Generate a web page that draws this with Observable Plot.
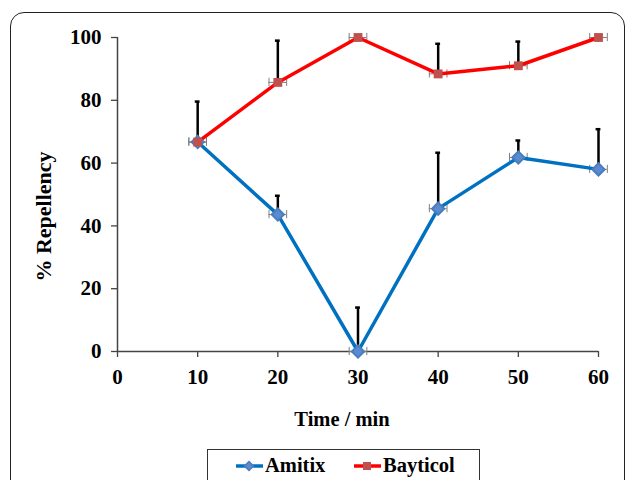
<!DOCTYPE html>
<html>
<head>
<meta charset="utf-8">
<script src="https://cdn.jsdelivr.net/npm/d3@7"></script>
<script src="https://cdn.jsdelivr.net/npm/@observablehq/plot@0.6"></script>
<style>
  html, body { margin: 0; padding: 0; background: #fff; }
  #wrap { position: relative; width: 627px; height: 480px; overflow: hidden; font-family: "Liberation Serif", "Times New Roman", serif; font-weight: bold; }
  #frame { position: absolute; left: 10px; top: 12px; width: 615px; height: 520px; border: 1.6px solid #222; border-radius: 14px; box-sizing: border-box; pointer-events: none; }
  #chart { position: absolute; left: 0; top: 0; }
  #legend { position: absolute; left: 207px; top: 449px; width: 273px; height: 45px; border: 1.2px solid #333; box-sizing: border-box; background: #fff; }
  .item { position: absolute; top: 4px; display: flex; align-items: center; font-size: 20.5px; color: #000; }
  .item svg { margin-right: 2px; }
</style>
</head>
<body>
<div id="wrap">
  <div id="chart"></div>
  <div id="frame"></div>
  <div id="legend"></div>
</div>
<script>
const times = [10, 20, 30, 40, 50, 60];
const seriesNames = ["Amitix", "Bayticol"];
const amitix = [66.7, 43.6, 0, 45.5, 61.8, 58.0];
const amitixErr = [0, 6.0, 14.0, 17.8, 5.4, 12.8];
const bayticol = [66.7, 85.7, 100, 88.4, 91.0, 100];
const bayticolErr = [12.9, 13.3, 0, 9.6, 7.7, 0];
const yTicks = [0, 20, 40, 60, 80, 100];
const xTicks = [0, 10, 20, 30, 40, 50, 60];
const xLabel = "Time / min";
const yLabel = "% Repellency";

const colors = { Amitix: "#0070C0", Bayticol: "#FF0000" };
const markerFill = { Amitix: "#5b8ad0", Bayticol: "#C0504D" };
const markerStroke = { Amitix: "#4a7dbe", Bayticol: "#C0504D" };
const symbols = { Amitix: "diamond2", Bayticol: "square" };

const rows = [];
times.forEach((t, i) => {
  rows.push({ series: "Amitix", t, v: amitix[i], e: amitixErr[i] });
  rows.push({ series: "Bayticol", t, v: bayticol[i], e: bayticolErr[i] });
});
const amRows = rows.filter(d => d.series === "Amitix");
const bayRows = rows.filter(d => d.series === "Bayticol");
const errRows = rows.filter(d => d.e > 0);

const xErr = 1.1, capY = 1.3, capX = 0.3;

const plot = Plot.plot({
  width: 627,
  height: 480,
  marginLeft: 117,
  marginRight: 29,
  marginTop: 37,
  marginBottom: 129,
  style: { fontFamily: "Liberation Serif, Times New Roman, serif", fontWeight: "bold", fontSize: "21px", color: "#000", background: "transparent" },
  x: { domain: [0, 60] },
  y: { domain: [0, 100] },
  marks: [
    Plot.axisY({ ticks: yTicks, tickSize: 6, tickPadding: 10, fontSize: 21, fontWeight: "bold", fontFamily: "Liberation Serif", fill: "#000", label: null, stroke: "#444", strokeWidth: 1.3 }),
    Plot.axisX({ ticks: xTicks, tickSize: 6, tickPadding: 12, fontSize: 21, fontWeight: "bold", fontFamily: "Liberation Serif", fill: "#000", label: null, stroke: "#444", strokeWidth: 1.3 }),
    Plot.ruleX([0], { stroke: "#444", strokeWidth: 1.5 }),
    Plot.ruleY([0], { stroke: "#444", strokeWidth: 1.5 }),
    // horizontal (gray) error bars
    Plot.ruleY(rows, { x1: d => d.t - xErr, x2: d => d.t + xErr, y: "v", stroke: "#7f7f7f", strokeWidth: 1 }),
    Plot.ruleX(rows, { x: d => d.t - xErr, y1: d => d.v - capY, y2: d => d.v + capY, stroke: "#7f7f7f", strokeWidth: 1 }),
    Plot.ruleX(rows, { x: d => d.t + xErr, y1: d => d.v - capY, y2: d => d.v + capY, stroke: "#7f7f7f", strokeWidth: 1 }),
    // vertical (black) error bars, upper only
    Plot.ruleX(errRows, { x: "t", y1: "v", y2: d => d.v + d.e, stroke: "#000", strokeWidth: 2.5 }),
    Plot.ruleY(errRows, { x1: d => d.t - capX, x2: d => d.t + capX, y: d => d.v + d.e, stroke: "#000", strokeWidth: 2.5 }),
    // lines
    Plot.line(amRows, { x: "t", y: "v", stroke: colors.Amitix, strokeWidth: 3.5 }),
    Plot.line(bayRows, { x: "t", y: "v", stroke: colors.Bayticol, strokeWidth: 3.5 }),
    // markers
    Plot.dot(amRows, { x: "t", y: "v", symbol: () => symbols.Amitix, r: 5.5, fill: markerFill.Amitix, stroke: markerStroke.Amitix, strokeWidth: 2 }),
    Plot.dot(bayRows, { x: "t", y: "v", symbol: () => symbols.Bayticol, r: 5, fill: markerFill.Bayticol, stroke: "none" }),
    // axis titles
    Plot.text([xLabel], { frameAnchor: "bottom", text: d => d, dy: 74, dx: -16, fontSize: 20.5, fontWeight: "bold", fill: "#000" }),
    Plot.text([yLabel], { frameAnchor: "left", textAnchor: "middle", text: d => d, rotate: -90, dx: -74, dy: 22, fontSize: 22, fontWeight: "bold", fill: "#000" })
  ]
});
document.getElementById("chart").appendChild(plot);

// legend
const legend = document.getElementById("legend");
const legendPos = { Amitix: 28, Bayticol: 146 };
seriesNames.forEach(name => {
  const div = document.createElement("div");
  div.className = "item";
  div.style.left = legendPos[name] + "px";
  const sym = name === "Amitix"
    ? `<polygon points="13,3.5 17.5,8 13,12.5 8.5,8" fill="${markerFill.Amitix}" stroke="${markerStroke.Amitix}" stroke-width="1.5"/>`
    : `<rect x="9" y="4" width="8" height="8" fill="${markerFill.Bayticol}"/>`;
  div.innerHTML = `<svg width="27" height="16" viewBox="0 0 27 16"><line x1="0" y1="8" x2="27" y2="8" stroke="${colors[name]}" stroke-width="3.5"/>${sym}</svg><span>${name}</span>`;
  legend.appendChild(div);
});
</script>
</body>
</html>
